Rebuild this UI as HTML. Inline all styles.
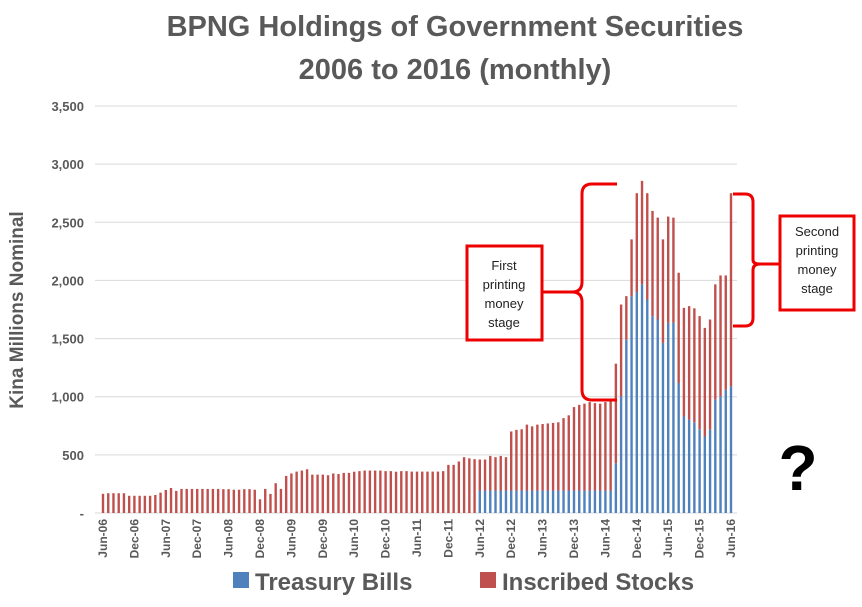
<!DOCTYPE html>
<html><head><meta charset="utf-8"><style>
html,body{margin:0;padding:0;background:#fff;}
body{width:862px;height:602px;overflow:hidden;font-family:"Liberation Sans",sans-serif;}
</style></head><body>
<svg id="chart" width="862" height="602" xmlns="http://www.w3.org/2000/svg" font-family="Liberation Sans, sans-serif">
<text x="455" y="36" text-anchor="middle" font-size="29" font-weight="bold" fill="#595959">BPNG Holdings of Government Securities</text>
<text x="455" y="79" text-anchor="middle" font-size="29" font-weight="bold" fill="#595959">2006 to 2016 (monthly)</text>
<text transform="translate(23,310) rotate(-90)" text-anchor="middle" font-size="19" font-weight="bold" fill="#595959">Kina Millions Nominal</text>
<g id="grid"></g><g id="bars"></g><g id="xlabels"></g>
<g>
<rect x="233" y="572" width="16" height="16" fill="#4f81bd"/>
<text x="255" y="590" font-size="24" font-weight="bold" fill="#595959">Treasury Bills</text>
<rect x="480" y="572" width="16" height="16" fill="#c0504d"/>
<text x="502" y="590" font-size="24" font-weight="bold" fill="#595959">Inscribed Stocks</text>
</g>
<g>
<rect x="467" y="246" width="75" height="94" fill="#fff" stroke="#e00" stroke-width="3"/>
<text x="504" y="270" text-anchor="middle" font-size="13" fill="#222">First</text>
<text x="504" y="289" text-anchor="middle" font-size="13" fill="#222">printing</text>
<text x="504" y="308" text-anchor="middle" font-size="13" fill="#222">money</text>
<text x="504" y="327" text-anchor="middle" font-size="13" fill="#222">stage</text>
<path d="M617,184 L592,184 Q582,184 582,194 L582,282 Q582,292 572,292 L542,292 M572,292 Q582,292 582,302 L582,390 Q582,400 592,400 L617,400" fill="none" stroke="#e00" stroke-width="3"/>
</g>
<g>
<rect x="780" y="216" width="74" height="94" fill="#fff" stroke="#e00" stroke-width="3"/>
<text x="817" y="236" text-anchor="middle" font-size="13" fill="#222">Second</text>
<text x="817" y="255" text-anchor="middle" font-size="13" fill="#222">printing</text>
<text x="817" y="274" text-anchor="middle" font-size="13" fill="#222">money</text>
<text x="817" y="293" text-anchor="middle" font-size="13" fill="#222">stage</text>
<path d="M733,194 L745,194 Q753,194 753,202 L753,260 Q753,264 760,264 L780,264 M760,264 Q753,264 753,270 L753,318 Q753,326 745,326 L733,326" fill="none" stroke="#e00" stroke-width="3"/>
</g>
<text x="798" y="490" text-anchor="middle" font-size="64" font-weight="bold" fill="#000">?</text>
</svg>
<script>
const yTicks=[0,500,1000,1500,2000,2500,3000,3500];
const yTickLabels=["-","500","1,000","1,500","2,000","2,500","3,000","3,500"];
const xLabels=["Jun-06","Dec-06","Jun-07","Dec-07","Jun-08","Dec-08","Jun-09","Dec-09","Jun-10","Dec-10","Jun-11","Dec-11","Jun-12","Dec-12","Jun-13","Dec-13","Jun-14","Dec-14","Jun-15","Dec-15","Jun-16"];
const totals=[165,170,170,170,170,148,148,148,148,148,155,175,
198,215,190,207,207,207,207,207,207,207,207,205,
205,200,200,205,205,200,118,207,164,256,207,319,
340,356,365,376,330,330,330,325,340,335,345,345,
355,360,365,365,365,365,360,360,355,360,360,356,
356,356,356,356,356,360,414,414,443,480,470,463,
460,460,491,480,491,480,701,715,720,760,745,760,
765,770,775,780,816,840,911,930,940,954,945,940,
954,960,1284,1793,1865,2353,2750,2856,2750,2598,2540,2353,
2549,2540,2066,1764,1779,1760,1693,1592,1664,1966,2043,2043,2750];
const bills=[];
for(let i=0;i<121;i++)bills.push(0);
const billsLate=[428,1003,1491,1865,1900,1966,1836,1693,1664,1463,1635,1635,1118,830,802,780,720,658,716,974,1003,1060,1089];
const billsMid=193;
for(let i=72;i<98;i++)bills[i]=billsMid;
for(let i=0;i<billsLate.length;i++)bills[98+i]=billsLate[i];

const NS="http://www.w3.org/2000/svg";
const y0=513,yTop=106,vMax=3500;
const ys=v=>y0-(v/vMax)*(y0-yTop);
const x0=103,dx=(731-103)/120;
const xs=i=>x0+dx*i;
function mk(tag,attrs,parent){const e=document.createElementNS(NS,tag);for(const k in attrs)e.setAttribute(k,attrs[k]);parent.appendChild(e);return e;}
const grid=document.getElementById('grid');
yTicks.forEach((t,k)=>{
 if(t>0){const l=mk('line',{x1:95,x2:737,y1:ys(t),y2:ys(t),stroke:'#d9d9d9','stroke-width':1},grid);
 
 }
 const tx=mk('text',{x:84,y:ys(t)+5,'text-anchor':'end','font-size':13,'font-weight':'bold',fill:'#595959'},grid);
 tx.textContent=yTickLabels[k];
 
 
});
const ax=mk('line',{x1:95,x2:737,y1:y0,y2:y0,stroke:'#d9d9d9','stroke-width':1},grid);


const bars=document.getElementById('bars');
const bw=2.4;
totals.forEach((tot,i)=>{
 const b=bills[i];
 if(b>0){const r=mk('rect',{x:xs(i)-bw/2,y:ys(b),width:bw,height:y0-ys(b),fill:'#4f81bd'},bars);
 
 }
 const s=Math.max(tot-b,0);
 const r2=mk('rect',{x:xs(i)-bw/2,y:ys(b+s),width:bw,height:ys(b)-ys(b+s),fill:'#c0504d'},bars);
 
 
});
const xl=document.getElementById('xlabels');
xLabels.forEach((lab,k)=>{
 const x=xs(k*6);
 const t=mk('text',{transform:`translate(${x+4},${519}) rotate(-90)`,'text-anchor':'end','font-size':12,'font-weight':'bold',fill:'#595959'},xl);
 t.textContent=lab;
 
 
});
</script>
</body></html>
